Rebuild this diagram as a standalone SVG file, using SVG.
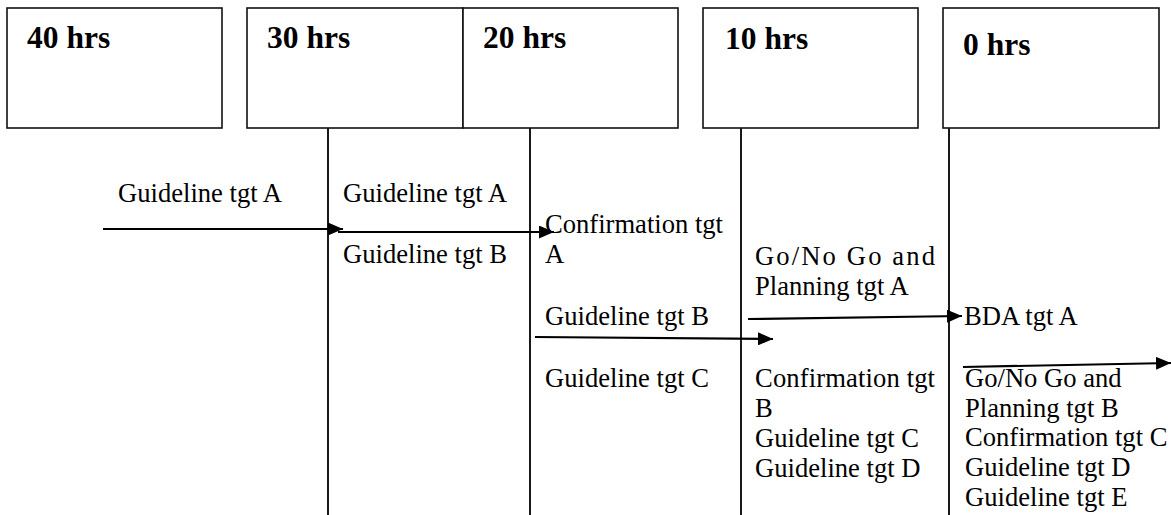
<svg xmlns="http://www.w3.org/2000/svg" width="1171" height="515" viewBox="0 0 1171 515">
<style>
.box{fill:#fff;stroke:#111;stroke-width:1.6}
.hd{font-family:'Liberation Serif',Tinos,'Times New Roman','DejaVu Serif',serif;font-weight:bold;font-size:31.5px;fill:#000}
.t{font-family:'Liberation Serif',Tinos,'Times New Roman','DejaVu Serif',serif;font-size:26.6px;fill:#000}
.vl{stroke:#000;stroke-width:1.8}
.ar{stroke:#000;stroke-width:2.2;fill:none;marker-end:url(#ah)}
</style>
<defs>
<marker id="ah" markerUnits="userSpaceOnUse" markerWidth="15" markerHeight="13" refX="15" refY="6.5" orient="auto">
<path d="M0,0 L15,6.5 L0,13 z" fill="#000"/>
</marker>
</defs>
<rect width="1171" height="515" fill="#fff"/>
<g id="timelines">
<line class="vl" x1="328" y1="128" x2="328" y2="515"/>
<line class="vl" x1="530" y1="128" x2="530" y2="515"/>
<line class="vl" x1="741" y1="128" x2="741" y2="515"/>
<line class="vl" x1="949" y1="128" x2="949" y2="515"/>
</g>
<g id="node-40hrs">
<rect class="box" x="7" y="8" width="215" height="120"/>
<text class="hd" x="27" y="48">40 hrs</text>
</g>
<g id="node-30hrs">
<rect class="box" x="247" y="8" width="216" height="120"/>
<text class="hd" x="267" y="48">30 hrs</text>
</g>
<g id="node-20hrs">
<rect class="box" x="463" y="8" width="215" height="120"/>
<text class="hd" x="483" y="48">20 hrs</text>
</g>
<g id="node-10hrs">
<rect class="box" x="703" y="8" width="215" height="120"/>
<text class="hd" x="725" y="49">10 hrs</text>
</g>
<g id="node-0hrs">
<rect class="box" x="943" y="8" width="216" height="120"/>
<text class="hd" x="963" y="55">0 hrs</text>
</g>
<g id="col-40">
<text class="t" x="118" y="202">Guideline tgt A</text>
</g>
<g id="col-30">
<text class="t" x="343" y="202">Guideline tgt A</text>
<text class="t" x="343" y="263">Guideline tgt B</text>
</g>
<g id="col-20">
<text class="t" x="545" y="233" textLength="178" lengthAdjust="spacing">Confirmation tgt</text>
<text class="t" x="545" y="263">A</text>
<text class="t" x="545" y="325">Guideline tgt B</text>
<text class="t" x="545" y="387">Guideline tgt C</text>
</g>
<g id="col-10">
<text class="t" x="755" y="265" textLength="180" lengthAdjust="spacing">Go/No Go and</text>
<text class="t" x="755" y="295">Planning tgt A</text>
<text class="t" x="755" y="387" textLength="180" lengthAdjust="spacing">Confirmation tgt</text>
<text class="t" x="755" y="417">B</text>
<text class="t" x="755" y="447">Guideline tgt C</text>
<text class="t" x="755" y="477">Guideline tgt D</text>
</g>
<g id="col-0">
<text class="t" x="964" y="325">BDA tgt A</text>
<text class="t" x="965" y="387">Go/No Go and</text>
<text class="t" x="965" y="417">Planning tgt B</text>
<text class="t" x="965" y="446">Confirmation tgt C</text>
<text class="t" x="965" y="476">Guideline tgt D</text>
<text class="t" x="965" y="506">Guideline tgt E</text>
</g>
<g id="connectors">
<line class="ar" x1="103" y1="229" x2="343" y2="229"/>
<line class="ar" x1="338" y1="232" x2="554" y2="232"/>
<line class="ar" x1="535" y1="337" x2="773" y2="339"/>
<line class="ar" x1="748" y1="319" x2="962" y2="316"/>
<line class="ar" x1="963" y1="367" x2="1171" y2="363"/>
</g>
</svg>
